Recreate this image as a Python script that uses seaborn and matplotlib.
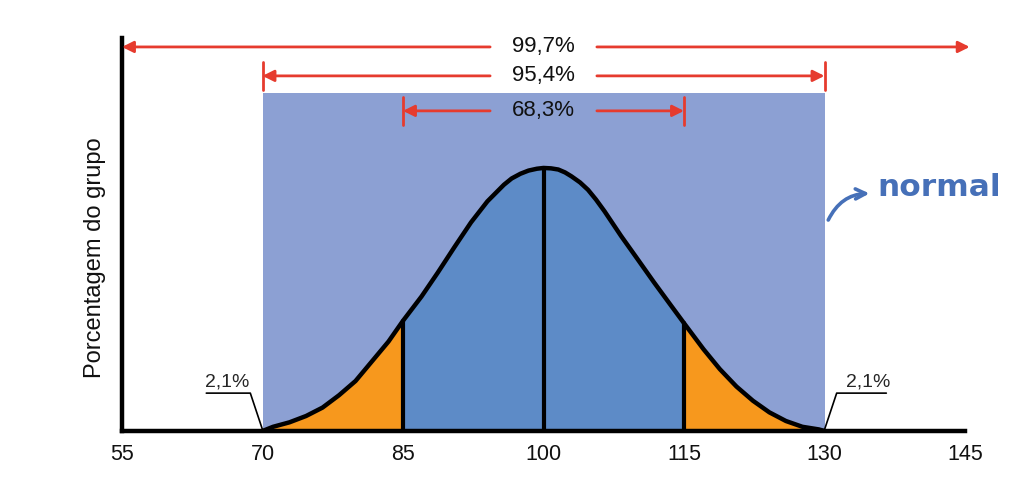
import numpy as np
import pandas as pd
import matplotlib
matplotlib.use("Agg")
import matplotlib.pyplot as plt
import seaborn as sns

# ---- data ----
curve_x = [70.0, 71.13, 72.88, 74.65, 76.41, 78.17, 79.93, 81.69, 83.45, 85.0,
           86.97, 88.73, 90.49, 92.26, 94.01, 95.77, 96.6, 97.54, 98.4, 99.29, 100.0,
           100.8, 101.58, 102.3, 102.99, 103.9, 104.75, 105.6, 106.52, 108.27, 110.03,
           111.8, 113.55, 115.0,
           117.08, 118.83, 120.6, 122.36, 124.11, 125.88, 127.64, 129.4, 130.0]
curve_y = [0, 1.6, 3.3, 5.7, 8.9, 13.6, 19.0, 26.5, 34.0, 41.9,
           51.1, 60.3, 69.9, 79.3, 87.3, 93.6, 96.0, 97.8, 99.0, 99.7, 100,
           99.85, 99.4, 98.3, 96.8, 94.5, 91.7, 88.0, 83.5, 74.2, 65.4,
           56.5, 48.0, 41.0,
           31.1, 23.5, 16.9, 11.5, 7.1, 3.8, 1.6, 0.6, 0]
tick_values = [55, 70, 85, 100, 115, 130, 145]
sigma_marks = [85, 100, 115]
band_labels = ["99,7%", "95,4%", "68,3%"]
band_ranges = [(55, 145.5), (70, 130), (85, 115)]
tail_label = "2,1%"
y_label = "Porcentagem do grupo"
curve_label = "normal"

df = pd.DataFrame({"x": curve_x, "y": curve_y})

sns.set_theme(style="white")
plt.rcParams['font.family'] = ['Liberation Sans', 'DejaVu Sans']

fig = plt.figure(figsize=(10.24, 4.91), dpi=100)
ax = fig.add_axes([122/1024, 1-431/491, (965-122)/1024, (431-38)/491])

RED = "#E63B2E"
RECT = "#8CA0D3"
BLUE = "#5D8BC7"
ORANGE = "#F7981D"
TXTBLUE = "#4670B8"

ax.set_xlim(55, 145)
ax.set_ylim(0, 149.4)

# big background rectangle (95,4% region)
ax.fill_between([70, 130], [0, 0], [128.5, 128.5], color=RECT, lw=0, zorder=1)

xa = np.array(curve_x)
ya = np.array(curve_y)
ax.fill_between(xa, 0, ya, where=(xa <= 85), color=ORANGE, lw=0, zorder=2)
ax.fill_between(xa, 0, ya, where=(xa >= 115), color=ORANGE, lw=0, zorder=2)
ax.fill_between(xa, 0, ya, where=(xa >= 85) & (xa <= 115), color=BLUE, lw=0, zorder=2)

sns.lineplot(data=df, x="x", y="y", ax=ax, color="black", lw=3.2, zorder=4,
             sort=False, solid_joinstyle="round", solid_capstyle="round")

for m in sigma_marks:
    h = curve_y[curve_x.index(float(m))]
    ax.plot([m, m], [0, h], color="black", lw=3, zorder=3)

# arrows and band labels
rows_y = [146.0, 135.0, 121.7]
tick_half = [None, 5.2, 5.2]
for lab, (a, b), yy, th in zip(band_labels, band_ranges, rows_y, tick_half):
    ax.text(100, yy, lab, ha="center", va="center", fontsize=16, color="#111111", zorder=6)
    ap = dict(arrowstyle="-|>", color=RED, lw=2.0, mutation_scale=17, shrinkA=0, shrinkB=0)
    ax.annotate("", xy=(a, yy), xytext=(94.3, yy), arrowprops=ap, annotation_clip=False, zorder=6)
    ax.annotate("", xy=(b, yy), xytext=(105.7, yy), arrowprops=ap, annotation_clip=False, zorder=6)
    if th is not None:
        for e in (a, b):
            ax.plot([e, e], [yy - th, yy + th], color=RED, lw=2.0, zorder=6, clip_on=False)

# tail labels with leader lines
ax.text(66.2, 18.6, tail_label, ha="center", va="center", fontsize=14, zorder=6)
ax.plot([64.0, 68.7, 70.0], [14.4, 14.4, 0.5], color="black", lw=1.2, zorder=6)
ax.text(134.7, 18.6, tail_label, ha="center", va="center", fontsize=14, zorder=6)
ax.plot([136.6, 131.3, 130.0], [14.4, 14.4, 0.5], color="black", lw=1.2, zorder=6)

# "normal" label with curved arrow
ax.text(135.6, 89.4, curve_label, ha="left", va="baseline", fontsize=22.5,
        fontweight="bold", color=TXTBLUE, family=["DejaVu Sans"], zorder=6)
ax.annotate("", xy=(134.8, 90.3), xytext=(130.4, 80.2),
            arrowprops=dict(arrowstyle="->", color=TXTBLUE, lw=2.6, mutation_scale=18,
                            connectionstyle="arc3,rad=-0.3", shrinkA=0, shrinkB=0),
            annotation_clip=False, zorder=6)

# axes styling
for s in ["top", "right"]:
    ax.spines[s].set_visible(False)
for s in ["left", "bottom"]:
    ax.spines[s].set_linewidth(3.2)
    ax.spines[s].set_color("black")
    ax.spines[s].set_zorder(5)
ax.set_xticks(tick_values)
ax.set_xticklabels([str(t) for t in tick_values])
ax.set_yticks([])
ax.tick_params(axis="x", length=0, pad=9, labelsize=15.5, labelcolor="#111111")
ax.set_xlabel("")
ax.set_ylabel(y_label, fontsize=17, color="#111111")
ax.yaxis.set_label_coords(-0.019, 0.44)
ax.patch.set_alpha(0)

fig.savefig("out.png", dpi=100)
